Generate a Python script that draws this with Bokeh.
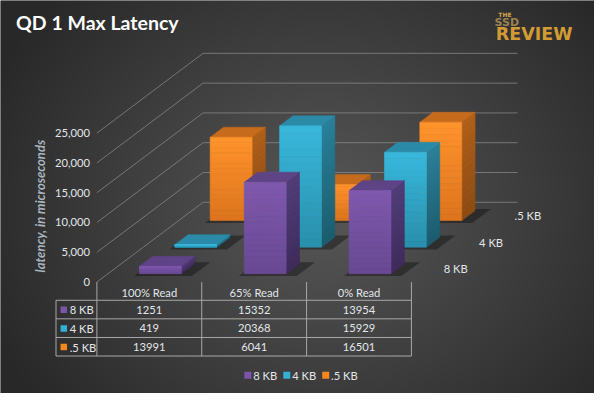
import numpy as np
from bokeh.plotting import figure
from bokeh.models import Range1d
from bokeh.core.properties import value
from bokeh.embed import file_html
from bokeh.resources import INLINE

# ---------------- data ----------------
title_text = "QD 1 Max Latency"
y_title = "latency, in microseconds"
categories = ["100% Read", "65% Read", "0% Read"]
series_names = ["8 KB", "4 KB", ".5 KB"]
lat_8kb = [1251, 15352, 13954]
lat_4kb = [419, 20368, 15929]
lat_05kb = [13991, 6041, 16501]
y_ticks = [0, 5000, 10000, 15000, 20000, 25000]
y_tick_labels = ["0", "5,000", "10,000", "15,000", "20,000", "25,000"]
series_values = [lat_8kb, lat_4kb, lat_05kb]

# ---------------- styles ----------------
front_top = ["#7f59ad", "#39b8dc", "#ff932b"]
front_bot = ["#684893", "#288fab", "#dc741d"]
top_col = ["#5f4387", "#2a8aa7", "#c66a1b"]
side_top = ["#513b76", "#28809a", "#b0601a"]
side_bot = ["#3e2c5c", "#1b5c6e", "#8c4b13"]
legend_col = ["#7b55a8", "#33b0d4", "#f5871f"]
txt_col = "#e2e6ea"
FONT = "Lato"
FS = "11.2px"

# ---------------- geometry ----------------
PX_CAT = 323 / 3.0      # reference px per category
PX_VAL = 31 / 5000.0    # reference px per microsecond
X0, Y0 = 99.0, 293.0    # front-left floor corner (reference px)


def dx(px):
    return (px - X0) / PX_CAT


def dy(py):
    return (Y0 - py) / PX_VAL


DEPTH_X = 109 / PX_CAT
DEPTH_Y = 83 / PX_VAL
HW = 0.2      # half bar width in categories
BW = 0.125    # bar depth as fraction of floor depth


def proj(x, v, d):
    return x + d * DEPTH_X, v + d * DEPTH_Y


def hex2rgb(h):
    return np.array([int(h[i:i + 2], 16) for i in (1, 3, 5)], float)


def mix(a, b, t):
    c = hex2rgb(a) * (1 - t) + hex2rgb(b) * t
    return "#%02x%02x%02x" % tuple(int(round(x)) for x in c)


p = figure(width=594, height=393, x_range=Range1d(dx(0), dx(610)),
           y_range=Range1d(dy(409), dy(0)), output_backend="svg",
           toolbar_location=None, min_border=0, x_axis_type=None, y_axis_type=None)
p.outline_line_color = None
p.background_fill_color = "#3c3c3c"
p.border_fill_color = "#3c3c3c"

# background radial gradient
W, H = 305, 205
jj, ii = np.meshgrid(np.arange(W), np.arange(H))
px = (jj + 0.5) * 2
py = 409 - (ii + 0.5) * 2
r = np.sqrt(((px - 330) / 330.0) ** 2 + ((py - 215) / 285.0) ** 2)
g = np.clip(88 - 42 * np.minimum(r, 1.12), 0, 255).astype(np.uint8)
img = np.empty((H, W), dtype=np.uint32)
v8 = img.view(dtype=np.uint8).reshape((H, W, 4))
v8[:, :, 0] = g
v8[:, :, 1] = g
v8[:, :, 2] = g
v8[:, :, 3] = 255
p.image_rgba(image=[img], x=dx(0), y=dy(409), dw=dx(610) - dx(0), dh=dy(0) - dy(409))

# gridlines: back wall and side wall
gx, gy = [], []
for t in y_ticks:
    a = proj(0, t, 1)
    b = proj(len(categories), t, 1)
    gx.append([a[0], b[0]]); gy.append([a[1], b[1]])
    c0 = proj(0, t, 0)
    gx.append([c0[0], a[0]]); gy.append([c0[1], a[1]])
p.multi_line(gx, gy, line_color="#8a8a8a", line_alpha=0.75, line_width=1)

# tick labels
p.text(x=[dx(92)] * len(y_ticks), y=y_ticks, text=y_tick_labels,
       text_font=value(FONT), text_font_size=FS, text_color=txt_col,
       text_align="right", text_baseline="middle")

# axis title
p.text(x=[dx(41)], y=[dy(214)], text=[y_title], angle=np.pi / 2,
       text_font=value(FONT), text_font_size="13px", text_font_style="bold italic",
       text_color="#a9b3bf", text_align="center", text_baseline="middle")

# bars, back row first
N = 16
for rrow in [2, 1, 0]:
    d0 = rrow / 3.0 + (1 / 3.0 - BW) / 2
    d1 = d0 + BW
    vals = series_values[rrow]
    shx, shy, tpx, tpy = [], [], [], []
    sdx, sdy, sdc = [], [], []
    ql, qr, qb, qt, qc = [], [], [], [], []
    for c, v in enumerate(vals):
        L = c + 0.5 - HW
        R = c + 0.5 + HW
        # shadow on floor
        pts = [proj(L - 0.02, 0, d0 - 0.03), proj(R + 0.13, 0, d0 - 0.03),
               proj(R + 0.13, 0, d1 + 0.02), proj(L - 0.02, 0, d1 + 0.02)]
        shx.append([q[0] for q in pts]); shy.append([q[1] for q in pts])
        # top face
        pts = [proj(L, v, d0), proj(R, v, d0), proj(R, v, d1), proj(L, v, d1)]
        tpx.append([q[0] for q in pts]); tpy.append([q[1] for q in pts])
        for k in range(N):
            b = v * k / N
            t = v * (k + 1) / N
            col_f = mix(front_bot[rrow], front_top[rrow], (k + 0.5) / N)
            col_s = mix(side_bot[rrow], side_top[rrow], (k + 0.5) / N)
            # side face strip
            pts = [proj(R, b, d0), proj(R, t, d0), proj(R, t, d1), proj(R, b, d1)]
            sdx.append([q[0] for q in pts]); sdy.append([q[1] for q in pts])
            sdc.append(col_s)
            # front face strip
            ql.append(L + d0 * DEPTH_X); qr.append(R + d0 * DEPTH_X)
            qb.append(b + d0 * DEPTH_Y); qt.append(t + d0 * DEPTH_Y)
            qc.append(col_f)
    p.patches(shx, shy, fill_color="black", fill_alpha=0.35, line_color=None)
    p.patches(sdx, sdy, fill_color=sdc, line_color=sdc, line_width=0.6)
    p.patches(tpx, tpy, fill_color=top_col[rrow], line_color=top_col[rrow], line_width=0.5)
    p.quad(left=ql, right=qr, bottom=qb, top=qt, fill_color=qc, line_color=qc, line_width=0.6)

# depth (series) labels
for rrow, name in enumerate(series_names):
    bx, by = proj(len(categories), 0, (rrow + 0.5) / 3.0)
    p.text(x=[bx + 15 / PX_CAT], y=[by], text=[name], text_font=value(FONT),
           text_font_size=FS, text_color=txt_col, text_align="left",
           text_baseline="middle")

# ---------------- data table ----------------
row_tops = [312, 331.3, 350.7, 370]
tl = "#a8a8a8"
tx, ty = [], []
for i in range(len(categories) + 1):
    tx.append([i, i]); ty.append([0, dy(370)])
tx.append([dx(57), dx(57)]); ty.append([dy(312), dy(370)])
for rt in row_tops:
    tx.append([dx(57), len(categories)]); ty.append([dy(rt), dy(rt)])
p.multi_line(tx, ty, line_color=tl, line_width=1)

p.text(x=[i + 0.5 for i in range(len(categories))], y=[dy(304)] * len(categories),
       text=categories, text_font=value(FONT), text_font_size=FS,
       text_color=txt_col, text_align="center", text_baseline="middle")
for rrow, name in enumerate(series_names):
    yc = dy((row_tops[rrow] + row_tops[rrow + 1]) / 2 + 0.3)
    p.scatter(x=[dx(65)], y=[yc], marker="square", size=6.5,
              fill_color=legend_col[rrow], line_color=None)
    p.text(x=[dx(71)], y=[yc], text=[name], text_font=value(FONT),
           text_font_size=FS, text_color=txt_col, text_align="left",
           text_baseline="middle")
    p.text(x=[i + 0.5 for i in range(len(categories))], y=[yc] * len(categories),
           text=[str(v) for v in series_values[rrow]], text_font=value(FONT),
           text_font_size=FS, text_color=txt_col, text_align="center",
           text_baseline="middle")

# ---------------- legend ----------------
leg_left = [254, 294, 334]
for rrow, name in enumerate(series_names):
    p.scatter(x=[dx(leg_left[rrow])], y=[dy(390)], marker="square", size=7,
              fill_color=legend_col[rrow], line_color=None)
    p.text(x=[dx(leg_left[rrow] + 5.5)], y=[dy(390)], text=[name],
           text_font=value(FONT), text_font_size=FS, text_color=txt_col,
           text_align="left", text_baseline="middle")

# ---------------- title and logo ----------------
p.text(x=[dx(16)], y=[dy(23)], text=[title_text], text_font=value(FONT),
       text_font_size="19.5px", text_font_style="bold", text_color="#ffffff",
       text_align="left", text_baseline="middle")
p.text(x=[dx(518)], y=[dy(14.5)], text=["THE"], text_font=value("DejaVu Sans"),
       text_font_size="6px", text_font_style="bold", text_color="#d6a64a",
       text_align="center", text_baseline="middle")
p.text(x=[dx(520)], y=[dy(22.5)], text=["SSD"], text_font=value("DejaVu Sans"),
       text_font_size="11px", text_font_style="bold", text_color="#9c8050",
       text_align="center", text_baseline="middle")
p.text(x=[dx(548)], y=[dy(35)], text=["REVIEW"], text_font=value("DejaVu Sans"),
       text_font_size="17.5px", text_font_style="bold", text_color="#d39b34",
       text_align="center", text_baseline="middle")

open("out.html", "w").write(file_html(p, INLINE))
